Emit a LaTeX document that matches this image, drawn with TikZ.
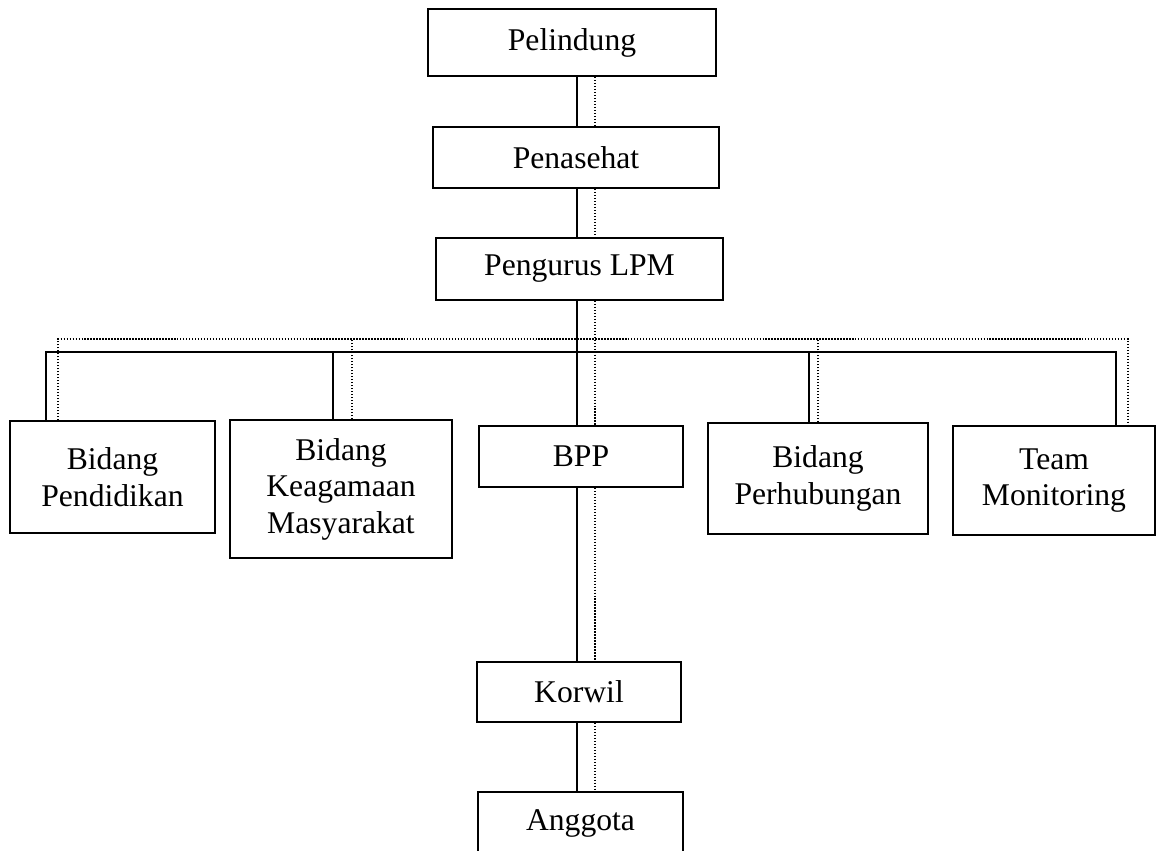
\documentclass[tikz,border=0pt]{standalone}
\usepackage{fontspec}
\setmainfont{Liberation Serif}
\usepackage{tikz}
\tikzset{
  orgBox/.style={
    rectangle,
    draw=black,
    line width=1.1pt,
    fill=white,
    align=center,
    font=\fontsize{18}{20.8}\selectfont,
    inner sep=0pt
  },
  trunkLine/.style={
    line width=1.1pt
  },
  dotLine/.style={
    line width=0.8pt,
    dash pattern=on 0.8pt off 0.9pt
  }
}
\begin{document}
\begin{tikzpicture}[x=0.02cm,y=-0.02cm]
        \clip (0,0) rectangle (1159,850);
        \fill[white] (0,0) rectangle (1159,850);

        \coordinate (spine) at (577,0);
        \coordinate (dotSpine) at (595,0);
        \coordinate (bus) at (577,352);
        \coordinate (dotBus) at (595,339);

        \node[orgBox, minimum width=5.76cm, minimum height=1.34cm] (pelindung) at (572,42.5) {Pelindung};
        \node[orgBox, minimum width=5.72cm, minimum height=1.22cm] (penasehat) at (576,157.5) {Penasehat};
        \node[orgBox, minimum width=5.74cm, minimum height=1.24cm] (pengurus) at (579.5,269) {Pengurus LPM};

        \node[orgBox, minimum width=4.1cm, minimum height=2.24cm] (pendidikan) at (112.5,477) {Bidang\\Pendidikan};
        \node[orgBox, minimum width=4.44cm, minimum height=2.76cm] (keagamaan) at (341,489) {Bidang\\Keagamaan\\Masyarakat};
        \node[orgBox, minimum width=4.08cm, minimum height=1.22cm] (bpp) at (581,456.5) {BPP};
        \node[orgBox, minimum width=4.4cm, minimum height=2.22cm] (perhubungan) at (818,478.5) {Bidang\\Perhubungan};
        \node[orgBox, minimum width=4.04cm, minimum height=2.18cm] (team) at (1054,480.5) {Team\\Monitoring};

        \node[orgBox, minimum width=4.08cm, minimum height=1.2cm] (korwil) at (579,692) {Korwil};
        \node[orgBox, minimum width=4.1cm, minimum height=1.24cm] (anggota) at (580.5,823) {Anggota};

        % solid lines
        \draw[trunkLine] (pelindung.south -| spine) -- (penasehat.north -| spine);
        \draw[trunkLine] (penasehat.south -| spine) -- (pengurus.north -| spine);
        \draw[trunkLine] (pengurus.south -| spine) -- (bpp.north -| spine);
        \draw[trunkLine] ([xshift=-1.33cm]pendidikan.north) |- (bus) -| ([xshift=1.24cm]team.north);
        \draw[trunkLine] ([xshift=-0.16cm]keagamaan.north) -- ([xshift=-0.16cm]keagamaan.north |- bus);
        \draw[trunkLine] ([xshift=-0.18cm]perhubungan.north) -- ([xshift=-0.18cm]perhubungan.north |- bus);
        \draw[trunkLine] (bpp.south -| spine) -- (korwil.north -| spine);
        \draw[trunkLine] (korwil.south -| spine) -- (anggota.north -| spine);

        % dotted lines
        \draw[dotLine] (pelindung.south -| dotSpine) -- (penasehat.north -| dotSpine);
        \draw[dotLine] (penasehat.south -| dotSpine) -- (pengurus.north -| dotSpine);
        \draw[dotLine] (pengurus.south -| dotSpine) -- (bpp.north -| dotSpine);
        \draw[dotLine] ([xshift=-1.09cm]pendidikan.north) |- (dotBus) -| ([xshift=1.48cm]team.north);
        \draw[dotLine] ([xshift=0.22cm]keagamaan.north) -- ([xshift=0.22cm]keagamaan.north |- dotBus);
        \draw[dotLine] (perhubungan.north) -- (perhubungan.north |- dotBus);
        \draw[dotLine] (bpp.south -| dotSpine) -- (korwil.north -| dotSpine);
        \draw[dotLine] (korwil.south -| dotSpine) -- (anggota.north -| dotSpine);
    \end{tikzpicture}
\end{document}
